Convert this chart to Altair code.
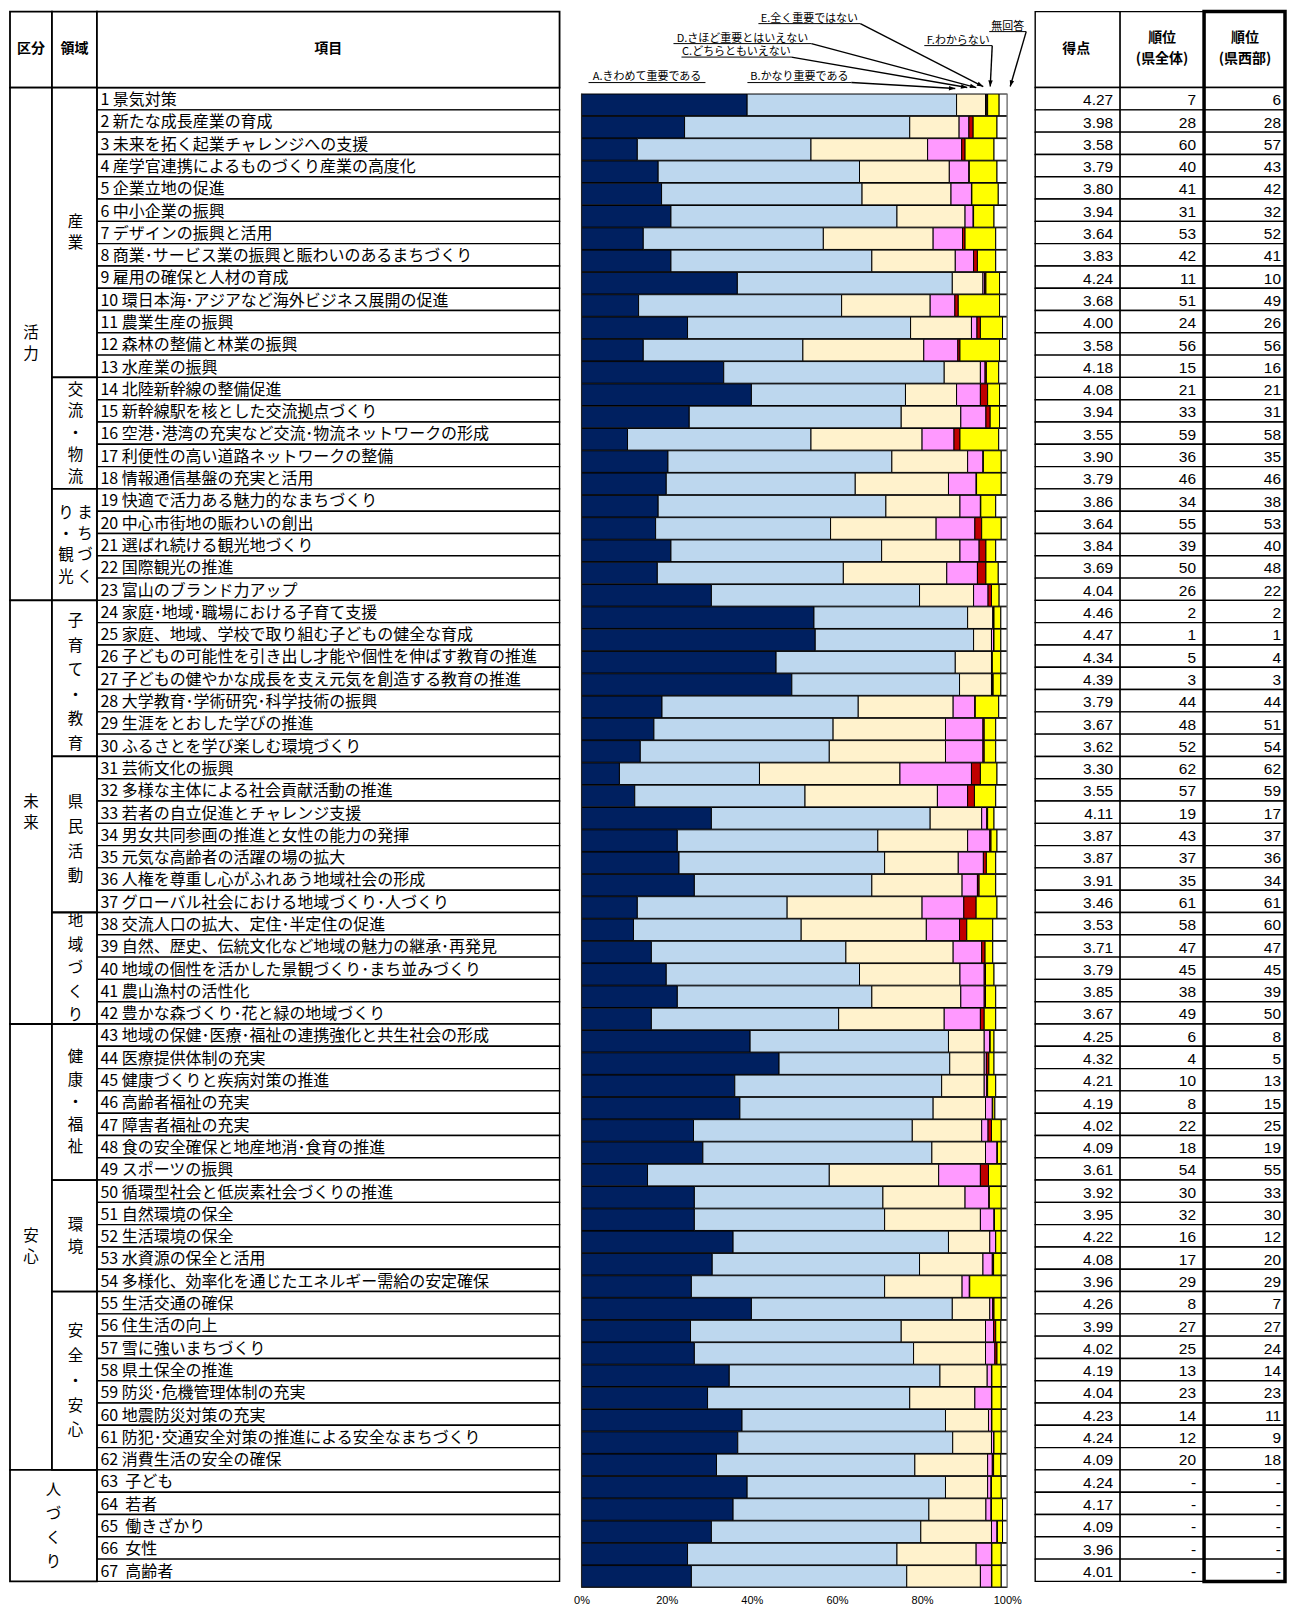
import math
import altair as alt
import pandas as pd

# ---------------- data ----------------
items = [
    "景気対策", "新たな成長産業の育成", "未来を拓く起業チャレンジへの支援",
    "産学官連携によるものづくり産業の高度化", "企業立地の促進", "中小企業の振興",
    "デザインの振興と活用", "商業･サービス業の振興と賑わいのあるまちづくり", "雇用の確保と人材の育成",
    "環日本海･アジアなど海外ビジネス展開の促進", "農業生産の振興", "森林の整備と林業の振興",
    "水産業の振興", "北陸新幹線の整備促進", "新幹線駅を核とした交流拠点づくり",
    "空港･港湾の充実など交流･物流ネットワークの形成", "利便性の高い道路ネットワークの整備",
    "情報通信基盤の充実と活用", "快適で活力ある魅力的なまちづくり", "中心市街地の賑わいの創出",
    "選ばれ続ける観光地づくり", "国際観光の推進", "富山のブランド力アップ",
    "家庭･地域･職場における子育て支援", "家庭、地域、学校で取り組む子どもの健全な育成",
    "子どもの可能性を引き出し才能や個性を伸ばす教育の推進",
    "子どもの健やかな成長を支え元気を創造する教育の推進", "大学教育･学術研究･科学技術の振興",
    "生涯をとおした学びの推進", "ふるさとを学び楽しむ環境づくり", "芸術文化の振興",
    "多様な主体による社会貢献活動の推進", "若者の自立促進とチャレンジ支援",
    "男女共同参画の推進と女性の能力の発揮", "元気な高齢者の活躍の場の拡大",
    "人権を尊重し心がふれあう地域社会の形成", "グローバル社会における地域づくり･人づくり",
    "交流人口の拡大、定住･半定住の促進", "自然、歴史、伝統文化など地域の魅力の継承･再発見",
    "地域の個性を活かした景観づくり･まち並みづくり", "農山漁村の活性化",
    "豊かな森づくり･花と緑の地域づくり", "地域の保健･医療･福祉の連携強化と共生社会の形成",
    "医療提供体制の充実", "健康づくりと疾病対策の推進", "高齢者福祉の充実", "障害者福祉の充実",
    "食の安全確保と地産地消･食育の推進", "スポーツの振興", "循環型社会と低炭素社会づくりの推進",
    "自然環境の保全", "生活環境の保全", "水資源の保全と活用",
    "多様化、効率化を通じたエネルギー需給の安定確保", "生活交通の確保", "住生活の向上",
    "雪に強いまちづくり", "県土保全の推進", "防災･危機管理体制の充実", "地震防災対策の充実",
    "防犯･交通安全対策の推進による安全なまちづくり", "消費生活の安全の確保",
    "\u00a0子ども", "\u00a0若者", "\u00a0働きざかり", "\u00a0女性", "\u00a0高齢者",
]

kubun_names = ["活力", "未来", "安心", "人づくり"]
kubun_first = [1, 24, 43, 63]
kubun_last = [23, 42, 62, 67]

ryoiki_names = ["産業", "交流・物流", "まちづくり・観光", "子育て・教育", "県民活動",
                "地域づくり", "健康・福祉", "環境", "安全・安心"]
ryoiki_first = [1, 14, 19, 24, 31, 38, 43, 50, 55]
ryoiki_last = [13, 18, 23, 30, 37, 42, 49, 54, 62]

categories = ["A.きわめて重要である", "B.かなり重要である", "C.どちらともいえない",
              "D.さほど重要とはいえない", "E.全く重要ではない", "F.わからない", "無回答"]
cat_colors = ["#002060", "#BDD7EE", "#FFF2CC", "#FF99FF", "#C00000", "#FFFF00", "#FFFFFF"]

pct_A = [38.9, 24.2, 13.1, 18.0, 18.8, 21.0, 14.5, 21.0, 36.6, 13.4, 24.9, 14.5, 33.4, 39.9, 25.3,
         10.8, 20.3, 19.9, 18.0, 17.4, 21.0, 17.8, 30.5, 54.6, 54.9, 45.7, 49.4, 18.9, 17.0, 13.8,
         8.9, 12.5, 30.5, 22.5, 22.9, 26.5, 13.1, 12.2, 16.4, 19.9, 22.5, 16.4, 39.6, 46.4, 36.0,
         37.2, 26.3, 28.5, 15.5, 26.5, 26.5, 35.6, 30.7, 25.8, 39.9, 25.6, 26.5, 34.7, 29.6, 37.7,
         36.7, 31.7, 38.9, 35.6, 30.5, 24.9, 25.8]
pct_B = [49.2, 52.9, 40.8, 47.3, 47.1, 53.1, 42.3, 47.2, 50.5, 47.7, 52.4, 37.5, 51.8, 36.2, 49.8,
         43.1, 52.6, 44.4, 53.5, 41.1, 49.5, 43.7, 48.9, 36.1, 37.2, 42.1, 39.4, 46.1, 42.1, 44.4,
         32.9, 40.0, 51.4, 47.1, 48.3, 41.7, 35.2, 39.4, 45.7, 45.4, 45.7, 44.0, 46.6, 40.1, 48.6,
         45.4, 51.4, 53.8, 42.7, 44.3, 44.7, 50.6, 48.7, 45.4, 47.2, 49.5, 51.5, 49.5, 47.5, 47.8,
         50.5, 46.6, 46.6, 46.0, 49.2, 49.2, 50.6]
pct_C = [6.8, 11.6, 27.4, 21.1, 20.9, 16.0, 25.8, 19.6, 7.2, 20.8, 14.3, 28.4, 8.5, 12.0, 14.0,
         26.1, 17.8, 21.9, 17.4, 24.8, 18.4, 24.3, 12.7, 5.9, 4.2, 8.5, 7.5, 22.3, 26.4, 27.3,
         33.0, 31.1, 12.1, 21.1, 17.3, 21.2, 31.7, 29.4, 25.2, 23.6, 20.9, 24.8, 8.4, 8.1, 10.0,
         12.3, 16.3, 12.6, 25.7, 19.3, 22.5, 9.7, 14.9, 18.2, 8.8, 19.8, 16.9, 11.1, 15.3, 10.1,
         9.1, 17.1, 9.9, 13.4, 16.6, 18.6, 17.3]
pct_D = [0.3, 2.3, 8.0, 4.6, 4.8, 1.9, 6.9, 4.3, 0.4, 5.8, 1.3, 8.0, 1.1, 5.6, 5.9,
         7.5, 3.6, 6.5, 4.8, 9.1, 4.5, 7.2, 3.4, 0.2, 0.5, 0.1, 0.2, 5.1, 8.8, 8.8,
         16.8, 7.1, 1.2, 5.2, 5.9, 3.6, 9.8, 7.8, 6.7, 5.7, 5.5, 8.5, 1.3, 0.5, 0.6,
         1.6, 1.5, 2.7, 9.8, 5.6, 3.2, 1.4, 2.2, 1.7, 0.7, 1.9, 2.2, 1.0, 3.9, 0.7,
         0.6, 1.1, 0.8, 1.2, 1.3, 3.6, 2.6]
pct_E = [0.2, 1.0, 0.8, 0.1, 0.1, 0.1, 0.6, 0.9, 0.3, 0.8, 0.8, 0.5, 0.3, 1.7, 1.0,
         1.4, 0.1, 0.1, 0.1, 1.6, 1.6, 2.0, 0.8, 0.1, 0.1, 0.1, 0.2, 0.1, 0.3, 0.3,
         2.1, 1.6, 0.2, 0.3, 0.7, 0.4, 2.9, 1.7, 0.8, 0.3, 0.3, 0.9, 0.1, 0.6, 0.2,
         0.1, 0.8, 0.1, 1.9, 0.1, 0.1, 0.0, 0.3, 0.1, 0.3, 0.5, 0.5, 0.1, 0.1, 0.1,
         0.0, 0.3, 0.1, 0.1, 0.1, 0.1, 0.1]
pct_F = [2.7, 5.6, 6.8, 6.5, 6.2, 4.8, 7.2, 4.3, 3.2, 9.7, 5.2, 9.3, 2.9, 2.8, 2.2,
         9.1, 4.2, 5.8, 3.5, 4.6, 2.3, 2.9, 1.8, 1.6, 1.6, 2.0, 1.8, 5.5, 2.7, 2.7,
         3.9, 5.0, 1.5, 1.4, 2.2, 3.9, 4.9, 6.1, 1.8, 2.0, 2.4, 2.7, 0.9, 1.2, 1.9,
         0.5, 2.3, 0.9, 3.0, 2.8, 1.6, 1.3, 1.8, 7.4, 1.7, 1.2, 0.9, 2.2, 2.2, 2.2,
         1.7, 1.7, 2.3, 2.6, 1.2, 2.2, 2.2]
pct_NA = [1.9, 2.4, 3.1, 2.4, 2.1, 3.1, 2.7, 2.7, 1.8, 1.8, 1.1, 1.8, 2.0, 1.8, 1.8,
          2.0, 1.4, 1.4, 2.7, 1.4, 2.7, 2.1, 1.9, 1.5, 1.5, 1.5, 1.5, 2.0, 2.7, 2.7,
          2.4, 2.7, 3.1, 2.4, 2.7, 2.7, 2.4, 3.4, 3.4, 3.1, 2.7, 2.7, 3.1, 3.1, 2.7,
          2.9, 1.4, 1.4, 1.4, 1.4, 1.4, 1.4, 1.4, 1.4, 1.4, 1.5, 1.5, 1.4, 1.4, 1.4,
          1.4, 1.5, 1.4, 1.1, 1.1, 1.4, 1.4]

score = [4.27, 3.98, 3.58, 3.79, 3.80, 3.94, 3.64, 3.83, 4.24, 3.68, 4.00, 3.58, 4.18, 4.08, 3.94,
         3.55, 3.90, 3.79, 3.86, 3.64, 3.84, 3.69, 4.04, 4.46, 4.47, 4.34, 4.39, 3.79, 3.67, 3.62,
         3.30, 3.55, 4.11, 3.87, 3.87, 3.91, 3.46, 3.53, 3.71, 3.79, 3.85, 3.67, 4.25, 4.32, 4.21,
         4.19, 4.02, 4.09, 3.61, 3.92, 3.95, 4.22, 4.08, 3.96, 4.26, 3.99, 4.02, 4.19, 4.04, 4.23,
         4.24, 4.09, 4.24, 4.17, 4.09, 3.96, 4.01]
rank_all = ["7", "28", "60", "40", "41", "31", "53", "42", "11", "51", "24", "56", "15", "21", "33",
            "59", "36", "46", "34", "55", "39", "50", "26", "2", "1", "5", "3", "44", "48", "52",
            "62", "57", "19", "43", "37", "35", "61", "58", "47", "45", "38", "49", "6", "4", "10",
            "8", "22", "18", "54", "30", "32", "16", "17", "29", "8", "27", "25", "13", "23", "14",
            "12", "20", "-", "-", "-", "-", "-"]
rank_west = ["6", "28", "57", "43", "42", "32", "52", "41", "10", "49", "26", "56", "16", "21", "31",
             "58", "35", "46", "38", "53", "40", "48", "22", "2", "1", "4", "3", "44", "51", "54",
             "62", "59", "17", "37", "36", "34", "61", "60", "47", "45", "39", "50", "8", "5", "13",
             "15", "25", "19", "55", "33", "30", "12", "20", "29", "7", "27", "24", "14", "23", "11",
             "9", "18", "-", "-", "-", "-", "-"]

# ---------------- layout ----------------
ROW = 22.313
HEAD = 76
N = len(items)
YTOP = -HEAD / ROW
PANEL_H = round(HEAD + N * ROW)
JP = "Noto Sans CJK JP"
NUM = "Liberation Sans"

# line spacing (px) of the vertical labels in each merged cell, and a small vertical nudge (px)
VLH = {"活力": 21, "未来": 21, "安心": 21, "人づくり": 24,
       "産業": 21.6, "交流・物流": 21.8, "まちづくり・観光": 21.3, "子育て・教育": 24.5,
       "県民活動": 24.7, "地域づくり": 23.6, "健康・福祉": 22.5, "環境": 22.6, "安全・安心": 24.9}
VNUDGE = {"子育て・教育": 4, "県民活動": 5}


def ysc():
    return alt.Scale(domain=[YTOP, N], reverse=True, nice=False, zero=False)


def rects(df, xs, sw, fill="white", stroke="black"):
    return alt.Chart(df).mark_rect(fill=fill, stroke=stroke, strokeWidth=sw).encode(
        x=alt.X("x0:Q", scale=xs, axis=None), x2="x1:Q",
        y=alt.Y("y0:Q", scale=ysc(), axis=None), y2="y1:Q")


def texts(df, xs, **kw):
    return alt.Chart(df).mark_text(color="black", **kw).encode(
        x=alt.X("x:Q", scale=xs, axis=None),
        y=alt.Y("y:Q", scale=ysc(), axis=None),
        text="t:N")


def vertical_rows(lines, xc, yc, lh):
    n = len(lines)
    return [{"x": xc, "y": yc + (j - (n - 1) / 2) * lh / ROW, "t": s} for j, s in enumerate(lines)]


# ---------- left table panel ----------
TW = 550
XT = alt.Scale(domain=[0, TW], nice=False, zero=False)
CK, CR, CI = (0, 42), (42, 87), (87, 550)
HEAD_Y = (46 - 85) / ROW

item_cells = pd.DataFrame({"x0": CI[0], "x1": CI[1],
                           "y0": list(range(N)), "y1": [i + 1 for i in range(N)]})
head_cells = pd.DataFrame({"x0": [CK[0], CR[0], CI[0]], "x1": [CK[1], CR[1], CI[1]],
                           "y0": YTOP, "y1": 0})
grp = []
for nm, a, b in zip(kubun_names, kubun_first, kubun_last):
    x1 = CR[1] if nm == "人づくり" else CK[1]
    grp.append({"x0": CK[0], "x1": x1, "y0": a - 1, "y1": b})
for nm, a, b in zip(ryoiki_names, ryoiki_first, ryoiki_last):
    grp.append({"x0": CR[0], "x1": CR[1], "y0": a - 1, "y1": b})
grp_cells = pd.DataFrame(grp)

item_txt = pd.DataFrame({"x": CI[0] + 3.5,
                         "y": [i + 0.56 for i in range(N)],
                         "t": [f"{i + 1} {s}" for i, s in enumerate(items)]})
head_txt = pd.DataFrame({"x": [sum(CK) / 2, sum(CR) / 2, sum(CI) / 2], "y": HEAD_Y,
                         "t": ["区分", "領域", "項目"]})

vrows = []
for nm, a, b in zip(kubun_names, kubun_first, kubun_last):
    yc = (a - 1 + b) / 2
    if nm == "人づくり":
        vrows += vertical_rows(list(nm), (CK[0] + CR[1]) / 2, yc, VLH[nm])
    else:
        vrows += vertical_rows(list(nm), sum(CK) / 2, yc, VLH[nm])
for nm, a, b in zip(ryoiki_names, ryoiki_first, ryoiki_last):
    yc = (a - 1 + b) / 2 + VNUDGE.get(nm, 0) / ROW
    if nm == "まちづくり・観光":
        lines = [f"{l} {r}" for l, r in zip("り・観光", "まちづく")]
    else:
        lines = list(nm)
    vrows += vertical_rows(lines, sum(CR) / 2 + 1, yc, VLH[nm])

table = alt.layer(
    rects(item_cells, XT, 1.4),
    rects(head_cells, XT, 1.8),
    rects(grp_cells, XT, 1.8),
    texts(item_txt, XT, align="left", baseline="middle", font=JP, fontSize=16),
    texts(head_txt, XT, align="center", baseline="middle", font=JP, fontSize=14, fontWeight="bold"),
    texts(pd.DataFrame(vrows), XT, align="center", baseline="middle", font=JP, fontSize=15.5),
).properties(width=TW, height=PANEL_H)

# ---------- bar panel ----------
BW = 476
X0PX = 22      # 0% position inside panel
SPAN = 426     # px for 100%
XB = alt.Scale(domain=[-X0PX / SPAN, (BW - X0PX) / SPAN], nice=False, zero=False)
X_AX = alt.Axis(values=[0, 0.2, 0.4, 0.6, 0.8, 1.0], format=".0%", domain=False, ticks=False,
                grid=False, labelPadding=13, labelFont=NUM, labelFontSize=11,
                labelColor="black", title=None)

series = [pct_A, pct_B, pct_C, pct_D, pct_E, pct_F, pct_NA]
bar_rows = []
for i in range(N):
    cum = 0.0
    for k, arr in enumerate(series):
        v = arr[i]
        bar_rows.append({"cat": categories[k], "x0": cum / 100, "x1": (cum + v) / 100,
                         "y0": i + 0.29, "y1": i + 1.26})
        cum += v
bars_df = pd.DataFrame(bar_rows)

bars = alt.Chart(bars_df).mark_rect(stroke="black", strokeWidth=1).encode(
    x=alt.X("x0:Q", scale=XB, axis=X_AX), x2="x1:Q",
    y=alt.Y("y0:Q", scale=ysc(), axis=None), y2="y1:Q",
    color=alt.Color("cat:N", scale=alt.Scale(domain=categories, range=cat_colors), legend=None),
)

frame_df = pd.DataFrame({"x0": [0, 0, 1], "x1": [0, 1, 1],
                         "y0": [0.27, N + 0.27, 0.27], "y1": [N + 0.27, N + 0.27, N + 0.27],
                         "c": ["#222222", "#222222", "#999999"]})
frame = alt.Chart(frame_df).mark_rule(strokeWidth=1.2).encode(
    x=alt.X("x0:Q", scale=XB, axis=X_AX), x2="x1:Q",
    y=alt.Y("y0:Q", scale=ysc(), axis=None), y2="y1:Q",
    color=alt.Color("c:N", scale=None))


def fx(px):
    return (px - 559 - X0PX) / SPAN


def fy(py):
    return (py - 85) / ROW


# legend annotations (page pixel positions: left, right, text y, underline y)
leg_px = [(588, 705, 74, 80), (747, 851, 74, 80), (681, 791, 49, 54.5), (673, 811, 36, 41),
          (758, 860, 16, 21), (924, 992, 38, 43), (989, 1026, 24, 29)]
leg_txt = pd.DataFrame({"x": [fx((a + b) / 2) for a, b, _, _ in leg_px],
                        "y": [fy(t) for _, _, t, _ in leg_px], "t": categories})
leg_ul = pd.DataFrame({"x0": [fx(a) for a, _, _, _ in leg_px], "x1": [fx(b) for _, b, _, _ in leg_px],
                       "y0": [fy(u) for _, _, _, u in leg_px], "y1": [fy(u) for _, _, _, u in leg_px]})
arrows_px = [(851, 80, 955, 86), (791, 54.5, 967, 85), (811, 41, 976, 85),
             (860, 21, 983, 84), (992, 43, 990, 84), (1026, 29, 1010, 84)]
arr_df = pd.DataFrame({"x0": [fx(a[0]) for a in arrows_px], "y0": [fy(a[1]) for a in arrows_px],
                       "x1": [fx(a[2]) for a in arrows_px], "y1": [fy(a[3]) for a in arrows_px],
                       "ang": [math.degrees(math.atan2(a[2] - a[0], -(a[3] - a[1]))) % 360
                               for a in arrows_px]})

leg_text_layer = alt.Chart(leg_txt).mark_text(align="center", baseline="middle", font=JP,
                                             fontSize=11, color="black").encode(
    x=alt.X("x:Q", scale=XB, axis=X_AX), y=alt.Y("y:Q", scale=ysc(), axis=None), text="t:N")
ul_layer = alt.Chart(leg_ul).mark_rule(color="black", strokeWidth=1).encode(
    x=alt.X("x0:Q", scale=XB, axis=X_AX), x2="x1:Q",
    y=alt.Y("y0:Q", scale=ysc(), axis=None), y2="y1:Q")
arrow_lines = alt.Chart(arr_df).mark_rule(color="black", strokeWidth=1.4).encode(
    x=alt.X("x0:Q", scale=XB, axis=X_AX), x2="x1:Q",
    y=alt.Y("y0:Q", scale=ysc(), axis=None), y2="y1:Q")
arrow_heads = alt.Chart(arr_df).mark_point(shape="M0,0L-0.75,2.1L0.75,2.1Z", filled=True,
                                           size=36, color="black", opacity=1,
                                           strokeWidth=0).encode(
    x=alt.X("x1:Q", scale=XB, axis=X_AX), y=alt.Y("y1:Q", scale=ysc(), axis=None),
    angle=alt.Angle("ang:Q", scale=None))

barpanel = alt.layer(bars, frame, leg_text_layer, ul_layer, arrow_lines, arrow_heads).properties(
    width=BW, height=PANEL_H)

# ---------- right table panel ----------
RW = 252
XR = alt.Scale(domain=[0, RW], nice=False, zero=False)
RC = [(0, 85), (85, 169), (169, 250)]
r_cells = []
for a, b in RC:
    r_cells.append({"x0": a, "x1": b, "y0": YTOP, "y1": 0})
    for i in range(N):
        r_cells.append({"x0": a, "x1": b, "y0": i, "y1": i + 1})
r_cells = pd.DataFrame(r_cells)
thick = pd.DataFrame({"x0": [RC[2][0]], "x1": [RC[2][1]], "y0": [YTOP], "y1": [N]})

score_df = pd.DataFrame({"x": 78, "y": [i + 0.57 for i in range(N)], "t": [f"{v:.2f}" for v in score]})
ra_df = pd.DataFrame({"x": 161, "y": [i + 0.57 for i in range(N)], "t": rank_all})
rw_df = pd.DataFrame({"x": 246, "y": [i + 0.57 for i in range(N)], "t": rank_west})

rh_rows = [{"x": 41, "y": HEAD_Y, "t": "得点"}]
for xc, sub in [(127, "(県全体)"), (210, "(県西部)")]:
    rh_rows.append({"x": xc, "y": HEAD_Y - 10.5 / ROW, "t": "順位"})
    rh_rows.append({"x": xc, "y": HEAD_Y + 10.5 / ROW, "t": sub})
rh_df = pd.DataFrame(rh_rows)

right = alt.layer(
    rects(r_cells, XR, 1.4),
    alt.Chart(thick).mark_rect(fillOpacity=0, stroke="black", strokeWidth=3.5).encode(
        x=alt.X("x0:Q", scale=XR, axis=None), x2="x1:Q",
        y=alt.Y("y0:Q", scale=ysc(), axis=None), y2="y1:Q"),
    texts(score_df, XR, align="right", baseline="middle", font=NUM, fontSize=15.5),
    texts(ra_df, XR, align="right", baseline="middle", font=NUM, fontSize=15.5),
    texts(rw_df, XR, align="right", baseline="middle", font=NUM, fontSize=15.5),
    texts(rh_df, XR, align="center", baseline="middle", font=JP, fontSize=14, fontWeight="bold"),
).properties(width=RW, height=PANEL_H)

chart = alt.hconcat(table, barpanel, right, spacing=0, bounds="flush").properties(
    padding={"left": 1, "top": 1, "right": 0, "bottom": 0}
).configure_view(strokeWidth=0)

chart.save("out.html", embed_options={"renderer": "svg", "actions": False})
